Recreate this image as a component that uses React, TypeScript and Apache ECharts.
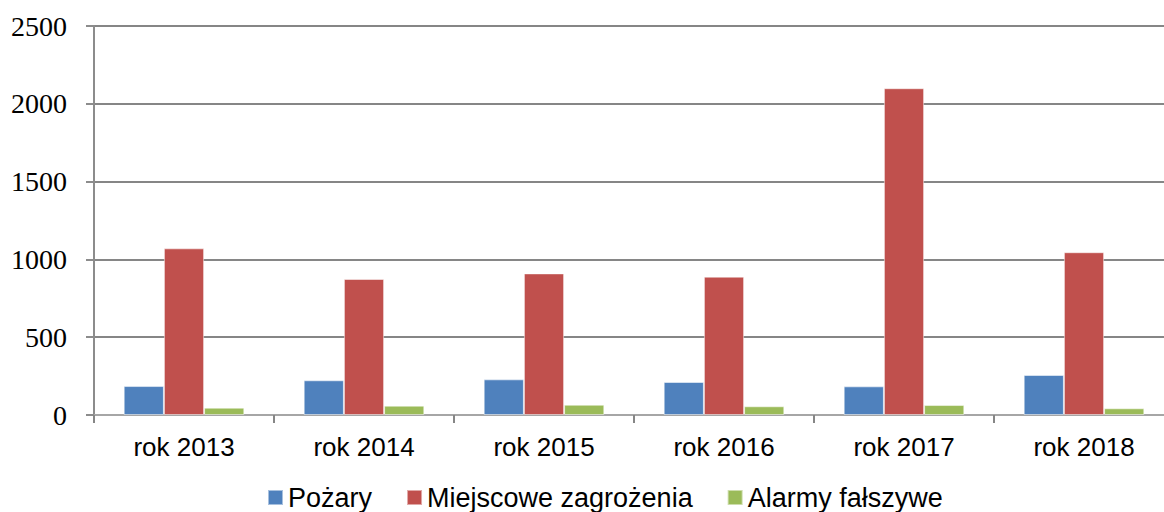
import React, { useEffect, useRef } from "react";
import * as echarts from "echarts";

const categories = ["rok 2013", "rok 2014", "rok 2015", "rok 2016", "rok 2017", "rok 2018"];
const pozary = [186, 223, 229, 212, 184, 257];
const miejscowe = [1071, 874, 910, 889, 2100, 1046];
const alarmy = [47, 60, 66, 56, 64, 43];
const yTicks = ["0", "500", "1000", "1500", "2000", "2500"];
const seriesNames = ["Pożary", "Miejscowe zagrożenia", "Alarmy fałszywe"];
const colors = ["#4F81BD", "#C0504D", "#9BBB59"];

export default function App() {
  const ref = useRef<HTMLDivElement>(null);
  useEffect(() => {
    if (!ref.current) return;
    const chart = echarts.init(ref.current, undefined, { renderer: "svg" });
    const values = [pozary, miejscowe, alarmy];
    chart.setOption({
      animation: false,
      backgroundColor: "#ffffff",
      grid: { left: 94, top: 26, bottom: 97, right: 2, containLabel: false },
      legend: {
        left: 267,
        top: 484,
        padding: 0,
        icon: "rect",
        itemWidth: 15,
        itemHeight: 15,
        itemGap: 34,
        textStyle: { fontFamily: "Liberation Sans", fontSize: 27, color: "#000" },
        data: seriesNames,
      },
      xAxis: {
        type: "category",
        data: categories,
        axisLine: { lineStyle: { color: "#a6a6a6", width: 2 } },
        axisTick: { show: true, length: 8, lineStyle: { color: "#868686", width: 2 } },
        axisLabel: { fontFamily: "Liberation Sans", fontSize: 26, color: "#000", margin: 19 },
      },
      yAxis: {
        type: "value",
        min: 0,
        max: 2500,
        interval: 500,
        axisLine: { show: true, lineStyle: { color: "#8c8c8c", width: 2 } },
        axisTick: { show: true, length: 8, lineStyle: { color: "#8c8c8c", width: 2 } },
        splitLine: { lineStyle: { color: "#868686", width: 2 } },
        axisLabel: {
          fontFamily: "Liberation Serif",
          fontSize: 28,
          color: "#000",
          margin: 27,
          formatter: (v: number) => yTicks[Math.round(v / 500)] ?? String(v),
        },
      },
      series: seriesNames.map((name, i) => ({
        name,
        type: "bar",
        data: values[i],
        barGap: "0%",
        barCategoryGap: "33%",
        itemStyle: { color: colors[i], borderColor: "rgba(255,255,255,0.5)", borderWidth: 1 },
      })),
    });
    return () => chart.dispose();
  }, []);
  return (
    <div style={{ position: "fixed", left: 0, top: 0, width: 1164, height: 512, overflow: "hidden", background: "#fff" }}>
      <div ref={ref} style={{ position: "absolute", left: 0, top: 0, width: 1176, height: 512 }} />
    </div>
  );
}
